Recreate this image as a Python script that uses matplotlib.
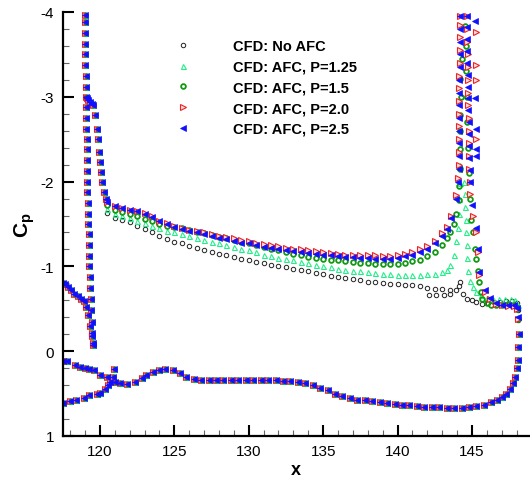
import matplotlib
matplotlib.use("Agg")
import matplotlib.pyplot as plt
from matplotlib.ticker import MultipleLocator

plt.rcParams['font.family'] = ['Liberation Sans', 'DejaVu Sans']
plt.rcParams['axes.unicode_minus'] = False
plt.rcParams['mathtext.fontset'] = 'custom'
plt.rcParams['mathtext.rm'] = 'Liberation Sans'
plt.rcParams['mathtext.bf'] = 'Liberation Sans:bold'

# ---- shared parts of the Cp distribution (all cases collapse here) ----
# small branch entering from the left edge
left_x = [117.5, 117.65, 117.87, 118.05, 118.25, 118.5, 118.7, 118.9, 119.05, 119.2, 119.33, 119.44, 119.55]
left_cp = [-0.80, -0.79, -0.76, -0.72, -0.68, -0.65, -0.62, -0.59, -0.52, -0.43, -0.30, -0.18, -0.07]

# leading-edge suction spike
spike_x = [119.52, 119.48, 119.45, 119.42, 119.38, 119.35, 119.33, 119.30, 119.28, 119.26,
           119.24, 119.22, 119.20, 119.18, 119.16, 119.14, 119.13, 119.12, 119.11, 119.10,
           119.09, 119.08, 119.07, 119.06, 119.05, 119.04, 119.03, 119.02, 119.01, 119.00,
           118.99, 118.99]
spike_cp = [-0.10, -0.22, -0.35, -0.48, -0.62, -0.75, -0.88, -1.00, -1.12, -1.25,
            -1.38, -1.50, -1.62, -1.75, -1.88, -2.00, -2.12, -2.25, -2.38, -2.50,
            -2.62, -2.75, -2.88, -3.00, -3.12, -3.25, -3.38, -3.50, -3.62, -3.75,
            -3.88, -3.97]

# plateau and fast recovery behind the spike
plat_x = [119.10, 119.22, 119.33, 119.45, 119.55, 119.66, 119.78, 119.84, 119.93, 120.00, 120.07, 120.16, 120.27, 120.40]
plat_cp = [-2.98, -2.96, -2.94, -2.92, -2.90, -2.78, -2.62, -2.50, -2.35, -2.23, -2.11, -2.00, -1.88, -1.79]

# lower surface, cove branch
cove_x = [117.5, 118.0, 118.4, 118.9, 119.3, 119.8, 120.0, 120.34, 120.56, 120.7, 120.9, 120.94]
cove_cp = [0.61, 0.59, 0.57, 0.55, 0.52, 0.50, 0.49, 0.45, 0.40, 0.36, 0.30, 0.21]

# lower surface, main
lo_x = [117.5, 117.76, 118.3, 118.66, 118.99, 119.3, 119.6, 120.0, 120.45, 121.0, 121.34, 121.8,
        122.35, 122.8, 123.1, 123.6, 124.0, 124.4, 124.9, 125.4, 125.8, 126.3, 126.8, 127.3,
        127.8, 128.3, 128.8, 129.3, 129.8, 130.3, 130.8, 131.3, 131.8, 132.3, 132.8, 133.3,
        133.8, 134.3, 134.8, 135.3, 135.8, 136.3, 136.8, 137.3, 137.8, 138.3, 138.8, 139.3,
        139.8, 140.3, 140.8, 141.3, 141.8, 142.3, 142.8, 143.3, 143.8, 144.3, 144.8, 145.3,
        145.8, 146.3, 146.7, 147.0, 147.3, 147.55, 147.75, 147.9, 148.0, 148.08, 148.12, 148.15]
lo_cp = [0.11, 0.12, 0.16, 0.19, 0.20, 0.21, 0.22, 0.28, 0.30, 0.36, 0.38, 0.385,
         0.36, 0.32, 0.28, 0.24, 0.22, 0.21, 0.22, 0.26, 0.30, 0.33, 0.34, 0.34,
         0.34, 0.34, 0.34, 0.34, 0.34, 0.34, 0.34, 0.34, 0.34, 0.35, 0.35, 0.36,
         0.38, 0.40, 0.43, 0.46, 0.50, 0.53, 0.55, 0.57, 0.58, 0.59, 0.60, 0.61,
         0.62, 0.63, 0.64, 0.65, 0.66, 0.66, 0.66, 0.67, 0.67, 0.67, 0.66, 0.65,
         0.63, 0.60, 0.57, 0.54, 0.50, 0.45, 0.38, 0.30, 0.20, 0.10, -0.05, -0.20]

# ---- upper surface, case dependent ----
up_x = [120.5, 121.0, 121.5, 122.0, 122.5, 123.0, 123.5, 124.0, 124.5, 125.0, 125.5, 126.0,
        126.5, 127.0, 127.5, 128.0, 128.5, 129.0, 129.5, 130.0, 130.5, 131.0, 131.5, 132.0,
        132.5, 133.0, 133.5, 134.0, 134.5, 135.0, 135.5, 136.0, 136.5, 137.0, 137.5, 138.0,
        138.5, 139.0, 139.5, 140.0, 140.5, 141.0, 141.5, 142.0, 142.5, 143.0]

up_noafc = [-1.63, -1.57, -1.55, -1.52, -1.48, -1.44, -1.40, -1.36, -1.32, -1.29, -1.27, -1.24,
            -1.22, -1.19, -1.17, -1.15, -1.13, -1.11, -1.09, -1.07, -1.05, -1.04, -1.02, -1.01,
            -0.99, -0.97, -0.96, -0.94, -0.92, -0.91, -0.89, -0.88, -0.86, -0.85, -0.84, -0.82,
            -0.81, -0.80, -0.79, -0.79, -0.78, -0.78, -0.77, -0.74, -0.73, -0.73]
up_p125 = [-1.68, -1.62, -1.59, -1.57, -1.54, -1.51, -1.48, -1.45, -1.42, -1.40, -1.38, -1.36,
           -1.34, -1.31, -1.29, -1.27, -1.25, -1.23, -1.21, -1.19, -1.17, -1.14, -1.12, -1.10,
           -1.09, -1.07, -1.05, -1.04, -1.02, -1.00, -0.99, -0.97, -0.96, -0.95, -0.94, -0.93,
           -0.92, -0.91, -0.91, -0.90, -0.90, -0.90, -0.90, -0.91, -0.91, -0.93]
up_p15 = [-1.72, -1.67, -1.64, -1.62, -1.60, -1.56, -1.53, -1.50, -1.48, -1.46, -1.45, -1.43,
          -1.41, -1.39, -1.37, -1.35, -1.33, -1.31, -1.29, -1.27, -1.25, -1.23, -1.21, -1.19,
          -1.17, -1.15, -1.13, -1.11, -1.10, -1.09, -1.08, -1.07, -1.06, -1.05, -1.04, -1.04,
          -1.03, -1.03, -1.03, -1.03, -1.04, -1.06, -1.08, -1.12, -1.17, -1.25]
up_p20 = [-1.76, -1.71, -1.69, -1.67, -1.65, -1.63, -1.59, -1.54, -1.51, -1.48, -1.45, -1.43,
          -1.42, -1.40, -1.38, -1.36, -1.35, -1.33, -1.31, -1.30, -1.28, -1.26, -1.25, -1.24,
          -1.22, -1.21, -1.20, -1.19, -1.18, -1.17, -1.16, -1.15, -1.14, -1.14, -1.13, -1.13,
          -1.13, -1.12, -1.12, -1.13, -1.15, -1.17, -1.20, -1.24, -1.30, -1.39]
up_p25 = [-1.76, -1.71, -1.69, -1.67, -1.65, -1.62, -1.58, -1.53, -1.50, -1.47, -1.44, -1.42,
          -1.40, -1.38, -1.36, -1.34, -1.32, -1.30, -1.28, -1.27, -1.25, -1.23, -1.22, -1.20,
          -1.19, -1.18, -1.17, -1.16, -1.15, -1.14, -1.13, -1.12, -1.11, -1.11, -1.10, -1.10,
          -1.09, -1.09, -1.09, -1.10, -1.12, -1.14, -1.17, -1.21, -1.27, -1.36]

# shock / trailing-edge region, case dependent
sh_noafc_x = [142.1, 142.6, 143.1, 143.5, 143.5, 143.9, 144.1, 144.2, 144.4, 144.7, 145.0, 145.3,
              145.7, 146.1, 146.5, 146.9, 147.3, 147.7, 148.0, 148.1, 148.12]
sh_noafc_cp = [-0.66, -0.66, -0.66, -0.67, -0.72, -0.72, -0.77, -0.82, -0.68, -0.62, -0.60, -0.58,
               -0.56, -0.57, -0.58, -0.58, -0.59, -0.59, -0.57, -0.49, -0.37]

sh_p125_x = [143.3, 143.55, 143.8, 143.95, 144.05, 144.1, 144.15, 144.2, 144.22, 144.45, 144.5,
             144.55, 144.6, 144.6, 144.65, 144.7, 144.75, 144.9, 145.05, 145.3, 145.6, 146.0,
             146.4, 146.8, 147.2, 147.6, 147.9, 148.1, 148.12]
sh_p125_cp = [-0.96, -1.02, -1.13, -1.30, -1.45, -1.62, -1.80, -1.98, -2.19, -2.00, -1.85,
              -1.70, -1.55, -1.40, -1.25, -1.10, -0.95, -0.83, -0.76, -0.70, -0.66, -0.63,
              -0.62, -0.62, -0.62, -0.61, -0.60, -0.55, -0.40]

sh_p15_x = [143.3, 143.55, 143.8, 143.95, 144.1, 144.15, 144.2, 144.2, 144.2, 144.2, 144.25, 144.2,
            144.3, 144.55, 144.6, 144.6, 144.65, 144.7, 144.75, 144.8, 144.85, 144.95, 145.05,
            145.2, 145.3, 145.4, 145.5, 145.6, 145.7, 146.0, 146.3, 146.6, 147.0, 147.4, 147.8,
            148.05, 148.12]
sh_p15_cp = [-1.33, -1.41, -1.50, -1.62, -1.78, -1.95, -2.15, -2.39, -2.60, -2.78, -3.00, -3.21,
             -3.45, -3.84, -3.60, -3.30, -3.00, -2.70, -2.40, -2.10, -1.80, -1.55, -1.41,
             -1.20, -1.09, -0.95, -0.82, -0.70, -0.62, -0.57, -0.55, -0.54, -0.55, -0.56, -0.55,
             -0.50, -0.38]

sh_p20_x = [143.3, 143.6, 143.9, 144.05, 144.15, 144.15, 144.15, 144.15, 144.15, 144.16, 144.16,
            144.16, 144.17, 144.17, 144.17, 144.17, 144.18, 144.7, 144.7, 144.7, 144.72, 144.72,
            144.74, 144.74, 144.76, 144.78, 144.8, 144.8, 144.82, 144.83, 144.85, 144.87,
            145.05, 145.3, 145.4, 145.5, 145.9, 146.2, 146.6, 147.0, 147.4, 147.8, 148.05, 148.12,
            145.3, 145.3, 145.3, 145.3]
sh_p20_cp = [-1.47, -1.60, -1.84, -2.04, -2.20, -2.35, -2.50, -2.65, -2.80, -2.95, -3.10,
             -3.25, -3.40, -3.55, -3.70, -3.85, -3.95, -3.95, -3.80, -3.65, -3.50, -3.35,
             -3.20, -3.05, -2.90, -2.75, -2.60, -2.45, -2.30, -2.15, -2.00, -1.85,
             -1.60, -1.41, -1.17, -0.90, -0.70, -0.62, -0.56, -0.54, -0.53, -0.53, -0.50, -0.38,
             -3.76, -3.37, -3.20, -2.50]

sh_p25_x = [143.3, 143.6, 143.9, 144.05, 144.14, 144.14, 144.15, 144.15, 144.15, 144.16, 144.16,
            144.16, 144.17, 144.17, 144.17, 144.17, 144.18, 144.68, 144.68, 144.69, 144.7, 144.7,
            144.72, 144.72, 144.74, 144.76, 144.78, 144.79, 144.8, 144.82, 144.84, 144.86,
            145.0, 145.25, 145.4, 145.5, 145.85, 146.2, 146.6, 147.0, 147.4, 147.8, 148.05, 148.12,
            145.2, 145.2, 145.3, 145.3, 145.3]
sh_p25_cp = [-1.44, -1.57, -1.80, -2.00, -2.15, -2.30, -2.45, -2.60, -2.75, -2.90, -3.05,
             -3.20, -3.35, -3.50, -3.65, -3.80, -3.95, -3.95, -3.82, -3.68, -3.54, -3.40,
             -3.26, -3.12, -2.98, -2.84, -2.70, -2.56, -2.42, -2.28, -2.14, -2.00,
             -1.72, -1.45, -1.20, -0.93, -0.72, -0.63, -0.57, -0.55, -0.54, -0.54, -0.51, -0.40,
             -3.89, -2.99, -2.62, -2.39, -2.30]

labels = ["CFD: No AFC", "CFD: AFC, P=1.25", "CFD: AFC, P=1.5", "CFD: AFC, P=2.0", "CFD: AFC, P=2.5"]
upper_cases = [up_noafc, up_p125, up_p15, up_p20, up_p25]
shock_x = [sh_noafc_x, sh_p125_x, sh_p15_x, sh_p20_x, sh_p25_x]
shock_cp = [sh_noafc_cp, sh_p125_cp, sh_p15_cp, sh_p20_cp, sh_p25_cp]

styles = [
    dict(marker='o', mfc='none', mec='#222222', ms=3.2, mew=0.7),
    dict(marker='^', mfc='none', mec='#22ee88', ms=3.6, mew=0.8),
    dict(marker='o', mfc='none', mec='#119911', ms=3.4, mew=1.3),
    dict(marker='>', mfc='#ffdddd', mec='#ee2222', ms=3.8, mew=0.8),
    dict(marker='<', mfc='#1010ff', mec='#1010ff', ms=3.8, mew=0.5),
]

fig = plt.figure(figsize=(5.30, 4.81), dpi=100)
ax = fig.add_axes([0.1183, 0.0915, 0.8817, 0.8815])

for lab, up, sx, scp, st in zip(labels, upper_cases, shock_x, shock_cp, styles):
    xs = left_x + spike_x + plat_x + cove_x + lo_x + up_x + sx
    cps = left_cp + spike_cp + plat_cp + cove_cp + lo_cp + up + scp
    ax.plot(xs, cps, linestyle='none', label=lab, clip_on=True, **st)

ax.set_xlim(117.5, 148.9)
ax.set_ylim(1, -4)

ax.xaxis.set_major_locator(MultipleLocator(5))
ax.xaxis.set_minor_locator(MultipleLocator(1))
ax.yaxis.set_major_locator(MultipleLocator(1))
ax.yaxis.set_minor_locator(MultipleLocator(0.2))
ax.tick_params(which='major', direction='in', length=8, width=1.5, labelsize=11, pad=6)
ax.tick_params(which='minor', direction='in', length=4.5, width=0.8, color='#666666')
ax.spines['top'].set_visible(False)
ax.spines['right'].set_visible(False)
ax.spines['left'].set_linewidth(1.6)
ax.spines['bottom'].set_linewidth(1.6)

ax.set_xlabel('x', fontsize=13, fontweight='bold', labelpad=2)
ax.set_ylabel(r'$\mathbf{C_p}$', fontsize=15, labelpad=3)

leg = ax.legend(loc='upper left', bbox_to_anchor=(0.23, 0.95), frameon=False,
                handlelength=1.0, handletextpad=2.9, labelspacing=0.46,
                prop=dict(weight='bold', size=10.5), borderaxespad=0)

fig.savefig('out.png', dpi=100)
